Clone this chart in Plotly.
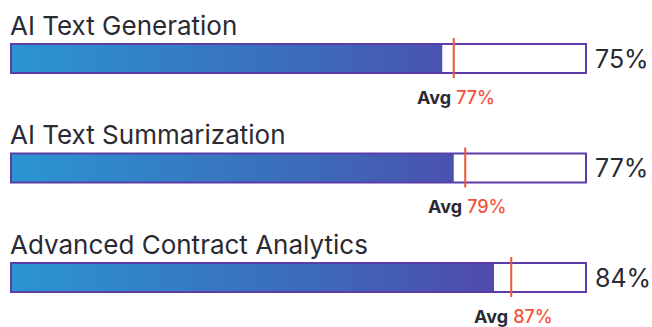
import plotly.graph_objects as go

# data
categories = ["AI Text Generation", "AI Text Summarization", "Advanced Contract Analytics"]
scores = [75, 77, 84]
averages = [77, 79, 87]

W, H = 652, 327
PX = 5.75          # pixels per percentage point
ROW = 109.5        # pixels between rows
HALF = 14.5 / ROW  # half bar height in row units
FONT = "Inter"

fig = go.Figure()

for i, (cat, val, avg) in enumerate(zip(categories, scores, averages)):
    # gradient fill
    fig.add_trace(go.Scatter(
        x=[0, val, val, 0, 0], y=[i - HALF, i - HALF, i + HALF, i + HALF, i - HALF],
        mode="lines", line=dict(width=0), fill="toself",
        fillgradient=dict(type="horizontal", start=0, stop=100,
                          colorscale=[[0, "#2a95d2"], [0.5, "#3b6cba"], [1, "#5a3ba6"]]),
        hoverinfo="skip", showlegend=False,
    ))
    # outline of full bar
    fig.add_shape(type="rect", x0=0, x1=100, y0=i - HALF, y1=i + HALF,
                  line=dict(color="#5b3ca8", width=2), fillcolor="rgba(0,0,0,0)")
    # average marker
    fig.add_shape(type="line", x0=avg, x1=avg, y0=i - HALF - 6 / ROW, y1=i + HALF + 5 / ROW,
                  line=dict(color="#f4533a", width=2))
    # category title
    fig.add_annotation(x=0, y=i, xref="x", yref="y", text=cat, showarrow=False,
                       xanchor="left", yanchor="middle", yshift=33.5, xshift=-3,
                       font=dict(size=26, color="#2a2a33", family=FONT))
    # value label
    fig.add_annotation(x=100, y=i, xref="x", yref="y", text=f"{val}%", showarrow=False,
                       xanchor="left", yanchor="middle", xshift=7,
                       font=dict(size=25, color="#2a2a33", family=FONT))
    # avg label
    fig.add_annotation(x=avg, y=i, xref="x", yref="y",
                       text=(f"<b>Avg</b> <span style='color:#f4533a;font-weight:500'>"
                             f"{avg}%</span>"),
                       showarrow=False, xanchor="center", yanchor="middle",
                       yshift=-38.5, xshift=2,
                       font=dict(size=18, color="#2a2a33", family=FONT))

fig.update_layout(
    width=W, height=H,
    margin=dict(l=0, r=0, t=0, b=0),
    paper_bgcolor="white", plot_bgcolor="white",
    xaxis=dict(range=[-11 / PX, (W - 11) / PX], visible=False, fixedrange=True),
    yaxis=dict(range=[(H - 58.5) / ROW, -58.5 / ROW], visible=False, fixedrange=True),
)

fig.write_html("out.html", config={"displayModeBar": False},
               post_script="document.body.style.margin='0';")
